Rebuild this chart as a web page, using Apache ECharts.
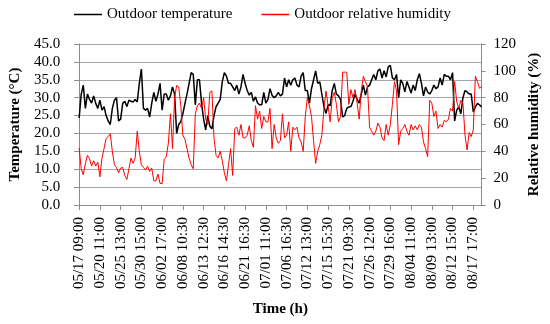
<!DOCTYPE html>
<html>
<head>
<meta charset="utf-8">
<script src="https://cdn.jsdelivr.net/npm/echarts@6/dist/echarts.min.js"></script>
<style>
html,body{margin:0;padding:0;background:#fff;}
#chart{width:550px;height:324px;}
</style>
</head>
<body>
<div id="chart"></div>
<script>
// Tick labels shown every 10th sample
const tickLabels = ["05/17 09:00","05/20 11:00","05/25 13:00","05/30 15:00","06/02 17:00","06/08 10:30","06/13 12:30","06/16 14:30","06/21 16:30","07/01 11:00","07/06 16:30","07/12 13:00","07/15 15:30","07/21 09:30","07/26 12:00","07/29 16:00","08/04 11:00","08/09 13:00","08/12 15:00","08/17 17:00"];

// Outdoor temperature (°C)
const temperature = [
24.3,31,33.5,27,31,29.5,28.5,30.5,28.4,27,
29.3,26.5,27.5,25,23.5,22.5,27,29.3,30,23.5,
24,28.4,29,27.5,29.3,29,28.8,29.5,28.8,34,
38,27,26.5,27,24.6,28.5,31.5,29,31,34,
26.5,31,31,29.3,30.5,33,31,20,22.5,23.3,
25.5,28.4,31,34,37,36.5,28,35,35,28.5,
24,21,25,22,21.3,25,27.5,28.5,29.5,34.5,
37,36,34,34,33,32,33.5,31,33,36.5,
34,32,30.7,31.5,29,30.2,28.5,28,28,31.5,
28.5,29.5,32.5,30.7,30,30.5,31.5,30.5,31,35.5,
33,35,33.5,35,35.5,33.5,33,36,37,32,
32,28.5,32.5,35,37.5,34,34.4,31,27.5,25.6,
28,27.8,32,34,31,30.5,29.5,24.6,25,27,
27.4,27.5,29,31,29.5,28.5,31,33.5,30.7,33,
33.5,35,36.5,35,37.5,38,35.5,37.5,35.8,38.6,
39,35.5,35,36.5,30,35,34,31.6,34.5,33,
31.3,33.5,32,35,36.7,34,30.5,33,31.6,31,
32,33.5,32.5,33,35.5,33.5,36.5,36,36,35,
37,23.5,26.5,27.4,25.5,30,32,31.6,31,31,
26,27.4,28.4,28,27.4
];

// Outdoor relative humidity (%)
const humidity = [
42.6,27,22.5,31,37,34.5,29,33,29,32,
21,35,42,49.6,51,53,40,30,28,24,
27.5,28,22,19,27,35,31,35,55,40,
30,28,26,29,25,27.5,18,18,23,16,
16,34,36,46,68,42,80,89,88,74,
52,49,42,35,30,27,68,74,76,72,
80,64,60,84,85,50,37,35,40,33,
24,18,30,42,22,57,58,52,60,50,
50,52,59,48,43,74,64,70,57,66,
62,62,72,42,60,50,46,48,68,50,
52,62,40,58,56,58,50,47,40,66,
80,74,66,48,31,40,45,52,72,85,
74,62,80,84,75,62,66,99,99,99,
75,86,80,86,76,64,85,96,92,88,
58,55,52,55,61,58,50,48,60,52,
60,75,92,85,45,55,57,60,55,52,
60,56,59,56,60,58,47,42,36,78,
76,66,70,57,60,58,63,62,64,72,
70,92,77,72,78,76,52,41,54,51,
56,96,92,87,88
];

const categories = temperature.map((_, i) => String(i));
const LABEL_EVERY = 10;

const font = '"Liberation Serif", "Times New Roman", serif';
const chart = echarts.init(document.getElementById('chart'), null, {renderer: 'canvas'});
chart.setOption({
  animation: false,
  backgroundColor: '#ffffff',
  textStyle: {fontFamily: font},
  legend: {
    top: 2,
    left: 69,
    icon: 'rect',
    itemWidth: 28,
    itemHeight: 1.5,
    itemGap: 29,
    textStyle: {fontFamily: font, fontSize: 15, color: '#000'},
    data: [
      {name: 'Outdoor temperature', itemStyle: {color: '#000000'}},
      {name: 'Outdoor relative humidity', itemStyle: {color: '#ff0000'}}
    ]
  },
  grid: {left: 74.7, right: 68.3, top: 44, bottom: 119, containLabel: false},
  xAxis: {
    type: 'category',
    data: categories,
    boundaryGap: false,
    name: 'Time (h)',
    nameLocation: 'middle',
    nameGap: 97,
    nameTextStyle: {fontFamily: font, fontSize: 15, fontWeight: 'bold', color: '#000'},
    axisLine: {lineStyle: {color: '#8c8c8c', width: 1}},
    axisTick: {show: true, interval: LABEL_EVERY - 1, length: 5, lineStyle: {color: '#8c8c8c'}},
    axisLabel: {
      interval: LABEL_EVERY - 1,
      rotate: 90,
      margin: 12,
      fontFamily: font, fontSize: 15, color: '#000',
      formatter: function (v, idx) { return idx % LABEL_EVERY === 0 ? (tickLabels[idx / LABEL_EVERY] || '') : ''; }
    },
    splitLine: {show: false}
  },
  yAxis: [
    {
      type: 'value', min: 0, max: 45, interval: 5,
      name: 'Temperature (°C)',
      nameLocation: 'middle',
      nameGap: 52,
      nameTextStyle: {fontFamily: font, fontSize: 15, fontWeight: 'bold', color: '#000'},
      axisLine: {show: true, lineStyle: {color: '#8c8c8c'}},
      axisTick: {show: true, length: 5, lineStyle: {color: '#8c8c8c'}},
      axisLabel: {fontFamily: font, fontSize: 15, color: '#000', margin: 19, formatter: v => v.toFixed(1)},
      splitLine: {show: true, lineStyle: {color: '#a6a6a6', width: 1}}
    },
    {
      type: 'value', min: 0, max: 120, interval: 20,
      name: 'Relative humidity (%)',
      nameLocation: 'middle',
      nameGap: 45,
      nameRotate: 90,
      nameTextStyle: {fontFamily: font, fontSize: 15, fontWeight: 'bold', color: '#000'},
      axisLine: {show: true, lineStyle: {color: '#8c8c8c'}},
      axisTick: {show: true, length: 4, lineStyle: {color: '#8c8c8c'}},
      axisLabel: {fontFamily: font, fontSize: 15, color: '#000', margin: 12},
      splitLine: {show: false}
    }
  ],
  series: [
    {
      name: 'Outdoor temperature', type: 'line', yAxisIndex: 0,
      data: temperature, symbol: 'none', smooth: false,
      lineStyle: {color: '#000000', width: 1.5}, itemStyle: {color: '#000000'}
    },
    {
      name: 'Outdoor relative humidity', type: 'line', yAxisIndex: 1,
      data: humidity, symbol: 'none', smooth: false,
      lineStyle: {color: '#ff0000', width: 1}, itemStyle: {color: '#ff0000'}
    }
  ]
});
</script>
</body>
</html>
